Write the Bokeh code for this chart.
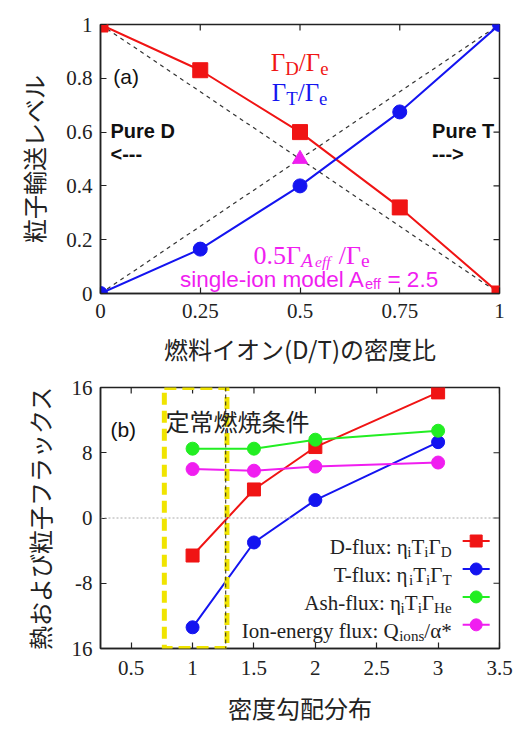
import math
from bokeh.plotting import figure
from bokeh.layouts import column
from bokeh.models import Label, Span, BoxAnnotation, FixedTicker, Range1d
from bokeh.embed import file_html
from bokeh.resources import INLINE

# ---------------- data ----------------
ratio = [0, 0.25, 0.5, 0.75, 1]
gamma_D = [1.0, 0.83, 0.60, 0.32, 0.0]
gamma_T = [0.0, 0.165, 0.40, 0.675, 1.0]
aeff_x = [0.5]
aeff_y = [0.5]
diag_x = [0, 1]
diag_down = [1, 0]
diag_up = [0, 1]

grad = [1, 1.5, 2, 3]
d_flux = [-4.6, 3.5, 8.7, 15.4]
t_flux = [-13.4, -3.0, 2.2, 9.3]
ash_flux = [8.5, 8.5, 9.6, 10.7]
ion_flux = [6.0, 5.8, 6.3, 6.8]

top_xticks = [0, 0.25, 0.5, 0.75, 1]
top_xlabels = ["0", "0.25", "0.5", "0.75", "1"]
top_yticks = [0, 0.2, 0.4, 0.6, 0.8, 1]
top_ylabels = ["0", "0.2", "0.4", "0.6", "0.8", "1"]
bot_xticks = [0.5, 1, 1.5, 2, 2.5, 3, 3.5]
bot_xlabels = ["0.5", "1", "1.5", "2", "2.5", "3", "3.5"]
bot_yticks = [-16, -8, 0, 8, 16]
bot_ylabels = ["16", "-8", "0", "8", "16"]

RED = "#f01414"
BLUE = "#1414f0"
GREEN = "#22ee22"
MAG = "#f01ef0"
YELLOW = "#f0e400"
SERIF = "Liberation Serif"
SANS = "Liberation Sans"
CJK = "Noto Sans CJK JP"

# ------------- text width helpers -------------
W_SERIF = {**{d: .5 for d in "0123456789"}, '.': .25, '/': .278, ':': .278, ' ': .25,
           '-': .333, '*': .5, 'D': .722, 'T': .611, 'A': .722, 'H': .722, 'I': .333,
           'Q': .722, 'a': .444, 'e': .444, 'f': .333, 'g': .5, 'h': .5, 'i': .278,
           'l': .278, 'n': .5, 'o': .5, 'r': .333, 's': .389, 'u': .5, 'x': .5, 'y': .5,
           'Γ': .578, 'η': .5, 'α': .52}
W_SANS = {**{d: .556 for d in "0123456789"}, 'a': .556, 'd': .556, 'e': .556, 'f': .278,
          'g': .556, 'i': .222, 'l': .222, 'm': .833, 'n': .556, 'o': .556, 's': .5,
          '-': .333, ' ': .278, '=': .584, '.': .278, 'A': .667, 'P': .667, 'u': .556,
          'r': .333, 'D': .722, 'T': .611, '<': .584, '>': .584, '(': .333, ')': .333,
          'b': .556}


def tw(text, size, table):
    return sum(table.get(c, .5) for c in text) * size


def rich(p, x, y, pieces, size, color, font, table, align="left", style="normal"):
    widths = [tw(t, size * s, table) for (t, s, dy, *rest) in pieces]
    total = sum(widths)
    start = {"left": 0, "center": -total / 2, "right": -total}[align]
    acc = start
    for (t, s, dy, *rest), w in zip(pieces, widths):
        st = rest[0] if rest else style
        lead = len(t) - len(t.lstrip(" "))
        off = tw(" " * lead, size * s, table)
        p.add_layout(Label(x=x, y=y, x_offset=acc + off, y_offset=-dy * size,
                           text=t.lstrip(" "), text_font=font,
                           text_font_size=f"{size * s:.1f}px",
                           text_color=color, text_font_style=st,
                           text_baseline="alphabetic", text_align="left"))
        acc += w


def style_axes(p, xticks, xlabels, yticks, ylabels):
    xo = dict(zip(xticks, xlabels))
    yo = dict(zip(yticks, ylabels))
    for ax, ticks, ov in ((p.xaxis[0], xticks, xo), (p.yaxis[0], yticks, yo)):
        ax.ticker = FixedTicker(ticks=ticks)
        ax.major_label_overrides = ov
        ax.major_tick_in = 6
        ax.major_tick_out = 0
        ax.minor_tick_line_color = None
        ax.axis_line_color = "#222"
        ax.axis_line_width = 1.5
        ax.major_tick_line_color = "#222"
        ax.major_tick_line_width = 1.2
        ax.major_label_text_font = SERIF
        ax.major_label_text_font_size = "21px"
        ax.major_label_text_color = "#222"
        ax.axis_label_text_font = CJK
        ax.axis_label_text_font_size = "24px"
        ax.axis_label_text_font_style = "normal"
        ax.axis_label_text_color = "#222"
    p.xaxis[0].major_label_standoff = 10
    p.yaxis[0].major_label_standoff = 8
    p.yaxis[0].axis_label_standoff = 12
    p.xaxis[0].axis_label_standoff = 10
    # mirrored inward ticks on top and right (half of each dash is clipped by the frame)
    xr, yr = p.x_range, p.y_range
    p.scatter(xticks, [yr.end] * len(xticks), marker="dash", size=12, angle=math.pi / 2,
              line_color="#222", line_width=1.2)
    p.scatter([xr.end] * len(yticks), yticks, marker="dash", size=12,
              line_color="#222", line_width=1.2)
    p.xgrid.grid_line_color = None
    p.ygrid.grid_line_color = None
    p.outline_line_color = "#222"
    p.outline_line_width = 1.5


# ---------------- panel (a) ----------------
p1 = figure(width=525, height=368, x_range=Range1d(0, 1), y_range=Range1d(0, 1),
            output_backend="svg", toolbar_location=None,
            min_border_left=97, min_border_right=25, min_border_top=24, min_border_bottom=71,
            x_axis_label="燃料イオン(D/T)の密度比", y_axis_label="粒子輸送レベル")
style_axes(p1, top_xticks, top_xlabels, top_yticks, top_ylabels)

p1.line(diag_x, diag_down, line_color="#333", line_dash="4 4", line_width=1.2)
p1.line(diag_x, diag_up, line_color="#333", line_dash="4 4", line_width=1.2)
p1.line(ratio, gamma_D, line_color=RED, line_width=2)
p1.scatter(ratio, gamma_D, marker="square", size=15, color=RED)
p1.line(ratio, gamma_T, line_color=BLUE, line_width=2)
p1.scatter(ratio, gamma_T, marker="circle", size=14, color=BLUE)
p1.scatter(aeff_x, aeff_y, marker="triangle", size=15, color=MAG)

rich(p1, 0.032, 0.806, [("(a)", 1, 0)], 21, "#111", SANS, W_SANS)
rich(p1, 0.499, 0.857, [("Γ", 1, 0), ("D", .75, .22), ("/Γ", 1, 0), ("e", .75, .22)],
     25, RED, SERIF, W_SERIF, align="center")
rich(p1, 0.499, 0.747, [("Γ", 1, 0), ("T", .75, .22), ("/Γ", 1, 0), ("e", .75, .22)],
     25, BLUE, SERIF, W_SERIF, align="center")
rich(p1, 0.025, 0.604, [("Pure D", 1, 0)], 20, "#111", SANS, W_SANS, style="bold")
rich(p1, 0.025, 0.52, [("<---", 1, 0)], 20, "#111", SANS, W_SANS, style="bold")
rich(p1, 0.831, 0.604, [("Pure T", 1, 0)], 20, "#111", SANS, W_SANS, style="bold")
rich(p1, 0.831, 0.52, [("--->", 1, 0)], 20, "#111", SANS, W_SANS, style="bold")
rich(p1, 0.529, 0.143, [("0.5Γ", 1, 0), ("A", .75, .22, "italic"), ("eff", .6, .25, "italic"),
                        (" /Γ", 1, 0), ("e", .75, .22)],
     26, MAG, SERIF, W_SERIF, align="center")
rich(p1, 0.199, 0.051, [("single-ion model A", 1, 0), ("eff", .65, .2), (" = 2.5", 1, 0)],
     22.5, MAG, SANS, W_SANS)

# ---------------- panel (b) ----------------
p2 = figure(width=525, height=362, x_range=Range1d(0.25, 3.5), y_range=Range1d(-16, 16),
            output_backend="svg", toolbar_location=None,
            min_border_left=100, min_border_right=26, min_border_top=19, min_border_bottom=82,
            x_axis_label="密度勾配分布", y_axis_label="熱および粒子フラックス")
style_axes(p2, bot_xticks, bot_xlabels, bot_yticks, bot_ylabels)
p2.xaxis[0].major_label_standoff = 12
p2.xaxis[0].axis_label_standoff = 12

p2.add_layout(Span(location=0, dimension="width", line_color="#aaa", line_dash="2 2",
                   line_width=1))
p2.add_layout(BoxAnnotation(left=0.77, right=1.28, fill_alpha=0, line_color=YELLOW,
                            line_alpha=1.0, line_width=5, line_dash="12 6"))
p2.add_layout(Span(location=1.27, dimension="height", line_color="#222", line_dash="4 3",
                   line_width=1))

series = [(d_flux, RED, "square"), (t_flux, BLUE, "circle"),
          (ash_flux, GREEN, "circle"), (ion_flux, MAG, "circle")]
for ys, col, mk in series:
    p2.line(grad, ys, line_color=col, line_width=2)
    p2.scatter(grad, ys, marker=mk, size=13, color=col)

# hand-made legend (samples to the right of right-aligned labels)
LEG_X = [3.20, 3.42]
LEG_XM = 3.31
LEG_ROWS = [-2.82, -6.25, -9.68, -13.1]
LEG_TX = 3.11
for (ys, col, mk), ry in zip(series, LEG_ROWS):
    p2.line(LEG_X, [ry, ry], line_color=col, line_width=2)
    p2.scatter([LEG_XM], [ry], marker=mk, size=12, color=col)

rich(p2, 0.331, 10.9, [("(b)", 1, 0)], 21, "#111", SANS, W_SANS)
p2.add_layout(Label(x=0.779, y=12.0, text="定常燃焼条件", text_font=CJK,
                    text_font_size="24px", text_color="#222", text_baseline="alphabetic"))

LS = 21
base = [r - 0.72 for r in LEG_ROWS]
rich(p2, LEG_TX, base[0], [("D-flux: η", 1, 0), ("i", .72, .25), ("T", 1, 0), ("i", .72, .25),
                           ("Γ", 1, 0), ("D", .72, .25)], LS, "#222", SERIF, W_SERIF,
     align="right")
rich(p2, LEG_TX, base[1], [("T-flux: η", 1, 0), ("i", .72, .25), ("T", 1, 0), ("i", .72, .25),
                           ("Γ", 1, 0), ("T", .72, .25)], LS, "#222", SERIF, W_SERIF,
     align="right")
rich(p2, LEG_TX, base[2], [("Ash-flux: η", 1, 0), ("i", .72, .25), ("T", 1, 0),
                           ("i", .72, .25), ("Γ", 1, 0), ("He", .72, .25)],
     LS, "#222", SERIF, W_SERIF, align="right")
rich(p2, LEG_TX, base[3], [("Ion-energy flux: Q", 1, 0), ("ions", .72, .25), ("/α*", 1, 0)],
     LS, "#222", SERIF, W_SERIF, align="right")

layout = column(p1, p2)
open("out.html", "w").write(file_html(layout, INLINE))
